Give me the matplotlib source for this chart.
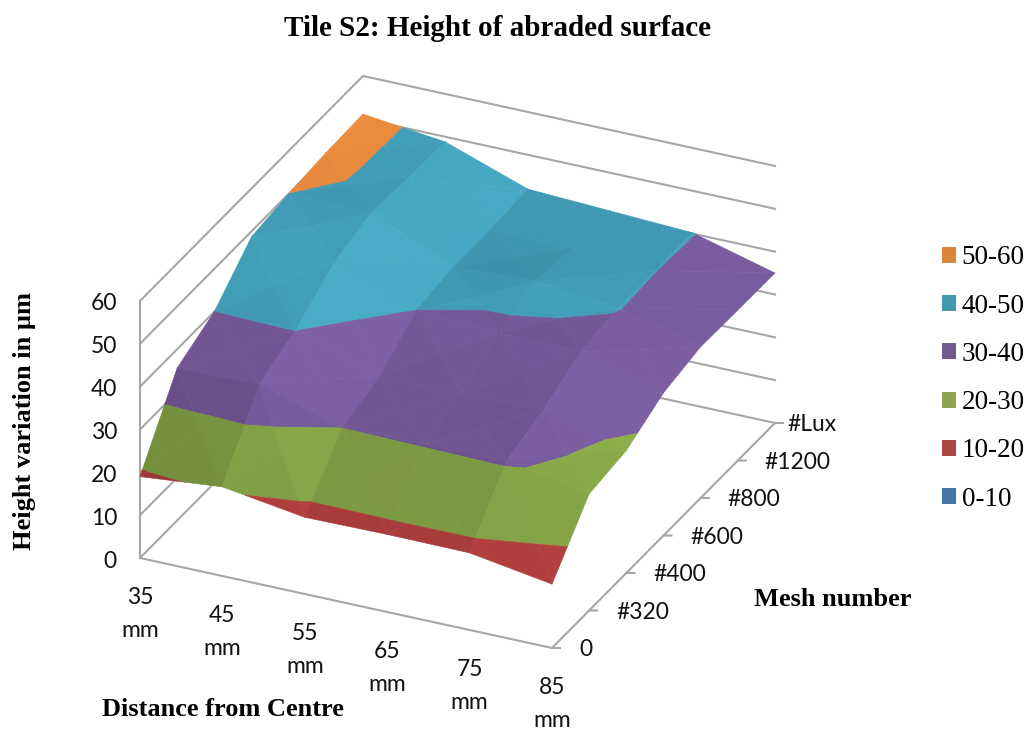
import numpy as np
import matplotlib
matplotlib.use("Agg")
import matplotlib.pyplot as plt
from matplotlib.patches import Patch
from mpl_toolkits.mplot3d import proj3d
from mpl_toolkits.mplot3d.art3d import Poly3DCollection

distance_labels = ["35\nmm", "45\nmm", "55\nmm", "65\nmm", "75\nmm", "85\nmm"]
mesh_labels = ["0", "#320", "#400", "#600", "#800", "#1200", "#Lux"]
height_ticks = [0, 10, 20, 30, 40, 50, 60]
band_labels = ["50-60", "40-50", "30-40", "20-30", "10-20", "0-10"]
band_edges = [(50, 60), (40, 50), (30, 40), (20, 30), (10, 20), (0, 10)]
band_colors = ["#E0853A", "#3F96AF", "#6F5490", "#7C9A42", "#A83C3A", "#4A7EBB"]
legend_colors = ["#DD843C", "#4298AF", "#735A93", "#8BA64F", "#AA4644", "#4775AB"]

mesh_0 = [19.0, 20.8, 17.9, 18.1, 18.0, 14.9]
mesh_320 = [35.6, 36.0, 30.0, 30.4, 30.8, 27.2]
mesh_400 = [40.0, 40.2, 33.2, 33.5, 34.0, 28.6]
mesh_600 = [48.7, 46.8, 40.0, 38.9, 38.7, 33.3]
mesh_800 = [50.0, 49.7, 41.3, 42.2, 40.2, 35.3]
mesh_1200 = [50.8, 49.1, 41.4, 41.0, 40.1, 35.1]
mesh_lux = [51.1, 48.8, 42.0, 41.1, 40.2, 35.0]
heights = np.array([mesh_0, mesh_320, mesh_400, mesh_600, mesh_800, mesh_1200, mesh_lux])

W, H = 1027, 729
ASPECT = (454.4, 528.6, 291.1)
GRID = "#A6A6A6"
SERIF = "Liberation Serif"
SANS = "Lato"

fig = plt.figure(figsize=(W / 100, H / 100), dpi=100)
ax = fig.add_axes([(457.5 - 364.5) / W, (367 - 364.5) / H, 729 / W, 1.0],
                  projection="3d", proj_type="ortho")
ax.patch.set_alpha(0)
ax.set_axis_off()
ax.computed_zorder = False
ax.view_init(elev=28, azim=-65.05)
nx, ny = heights.shape[1] - 1, heights.shape[0] - 1
ax.set_xlim(0, nx, view_margin=0)
ax.set_ylim(0, ny, view_margin=0)
ax.set_zlim(0, 60, view_margin=0)
ax.set_box_aspect(ASPECT, zoom=1)


def to_px(x, y, z):
    ax.apply_aspect()
    px, py, _ = proj3d.proj_transform(x, y, z, ax.get_proj())
    return ax.transData.transform((px, py))


# fit the box size and place to the reference frame
p0, p1 = to_px(0, 0, 0), to_px(nx, 0, 0)
ax.set_box_aspect(ASPECT, zoom=412 / (p1[0] - p0[0]))
p0 = to_px(0, 0, 0)
pos = ax.get_position(original=True)
ax.set_position([pos.x0 + (140 - p0[0]) / W, pos.y0 + (H - 558 - p0[1]) / H, pos.width, pos.height])


def clip_band(tri, lo, hi):
    def clip(poly, val, keep_above):
        out = []
        for a, b in zip(poly, poly[1:] + poly[:1]):
            ina = a[2] >= val if keep_above else a[2] <= val
            inb = b[2] >= val if keep_above else b[2] <= val
            if ina:
                out.append(a)
            if ina != inb:
                t = (val - a[2]) / (b[2] - a[2])
                out.append(tuple(a[k] + t * (b[k] - a[k]) for k in range(3)))
        return out
    poly = clip(list(tri), lo, True)
    return clip(poly, hi, False) if poly else []


LIGHT = np.array([0.5, -0.25, 0.8])
LIGHT = LIGHT / np.linalg.norm(LIGHT)
SCALE = np.array([ASPECT[0] / nx, ASPECT[1] / ny, ASPECT[2] / 60])


def shade(tri, color):
    a, b, c = (np.array(p) * SCALE for p in tri)
    n = np.cross(b - a, c - a)
    n = n / np.linalg.norm(n) * np.sign(n[2])
    f = np.clip(1 + 0.9 * (n @ LIGHT - LIGHT[2]), 0.85, 1.14)
    return tuple(np.clip(np.array(matplotlib.colors.to_rgb(color)) * f, 0, 1))


polys, colors = [], []
for j in range(ny):
    for i in range(nx):
        q = [(i, j, heights[j, i]), (i + 1, j, heights[j, i + 1]),
             (i + 1, j + 1, heights[j + 1, i + 1]), (i, j + 1, heights[j + 1, i])]
        mid = (i + 0.5, j + 0.5, np.mean([p[2] for p in q]))
        for k in range(4):
            tri = (q[k], q[(k + 1) % 4], mid)
            for (lo, hi), col in zip(band_edges, band_colors):
                poly = clip_band(tri, lo, hi)
                if len(poly) >= 3:
                    polys.append(poly)
                    colors.append(shade(tri, col))
surface = Poly3DCollection(polys, facecolors=colors, edgecolors=colors, linewidths=0.4, zsort="average")
surface.set_zorder(3)
ax.add_collection3d(surface, autolim=False)

line = dict(color=GRID, lw=1.5, zorder=1, solid_capstyle="projecting")
for z in height_ticks:
    ax.plot([0, 0, nx], [0, ny, ny], [z, z, z], **line)
ax.plot([0, 0], [0, 0], [0, 60], **line)
ax.plot([0, nx, nx], [0, 0, ny], [0, 0, 0], **line)
for j in range(ny + 1):
    ax.plot([nx, nx + 0.0797], [j, j + 0.0382], [0, 0], **line)


def label(x, y, z, s, dx, dy, **kw):
    p = to_px(x, y, z)
    fig.text((p[0] + dx) / W, (p[1] + dy) / H, s, family=SANS, fontsize=16.5, color="#111111", **kw)


for z in height_ticks:
    label(0, 0, z, str(z), -23, -3, ha="right", va="center")
for i, s in enumerate(distance_labels):
    label(i, 0, 0, s, 0, -56, ha="center", va="center", linespacing=1.65)
for j, s in enumerate(mesh_labels):
    label(nx, j, 0, s, 12 if s == "#Lux" else 27, -2, ha="left", va="center")

fig.text(497 / W, 1 - 29 / H, "Tile S2: Height of abraded surface", family=SERIF, weight="bold",
         fontsize=21, ha="center", va="center", color="black")
fig.text(25 / W, 1 - 421 / H, "Height variation in µm", family=SERIF, weight="bold", fontsize=19,
         rotation=90, ha="center", va="center", color="black")
fig.text(833 / W, 1 - 599 / H, "Mesh number", family=SERIF, weight="bold", fontsize=19,
         ha="center", va="center", color="black")
fig.text(223 / W, 1 - 710 / H, "Distance from Centre", family=SERIF, weight="bold", fontsize=19,
         ha="center", va="center", color="black")

handles = [Patch(facecolor=c, edgecolor="none", label=l) for c, l in zip(legend_colors, band_labels)]
fig.legend(handles=handles, loc="center left", bbox_to_anchor=(942 / W, 1 - 378.5 / H), frameon=False,
           prop={"family": SERIF, "size": 19.5}, borderpad=0, borderaxespad=0, handlelength=0.53,
           handleheight=0.53, handletextpad=0.2, labelspacing=0.86)

fig.savefig("out.png", dpi=100)
